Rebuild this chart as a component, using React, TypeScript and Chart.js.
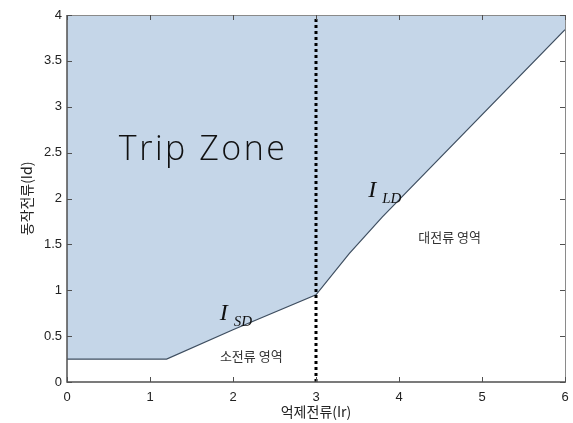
import React, { useEffect, useRef } from "react";
import { Chart, registerables } from "chart.js";

Chart.register(...registerables);

// Boundary (operating characteristic) curve
const boundaryX = [0, 1.2, 2.0, 3.0, 3.4, 3.8, 6];
const boundaryY = [0.25, 0.25, 0.57, 0.95, 1.4, 1.8, 3.84];
// Vertical dotted separator
const dividerX = [3, 3];
const dividerY = [0, 4];
// Axis ranges / ticks
const xTicks = [0, 1, 2, 3, 4, 5, 6];
const yTicks = [0, 0.5, 1, 1.5, 2, 2.5, 3, 3.5, 4];
const xTitle = "억제전류(Ir)";
const yTitle = "동작전류(Id)";

const KR = '"Noto Sans CJK KR", "Liberation Sans", sans-serif';

const annotationPlugin = {
  id: "annots",
  afterDatasetsDraw(chart: any) {
    const { ctx, chartArea, scales } = chart;
    const xs = scales.x;
    const ys = scales.y;
    const { left, right, top, bottom } = chartArea;
    ctx.save();
    // frame
    ctx.lineWidth = 1;
    ctx.strokeStyle = "#8a8a8a";
    ctx.beginPath();
    ctx.moveTo(left, top + 0.5);
    ctx.lineTo(right + 0.5, top + 0.5);
    ctx.lineTo(right + 0.5, bottom);
    ctx.stroke();
    ctx.strokeStyle = "#505050";
    ctx.lineWidth = 1.5;
    ctx.beginPath();
    ctx.moveTo(left, top);
    ctx.lineTo(left, bottom);
    ctx.lineTo(right + 1, bottom);
    ctx.stroke();
    // inner ticks
    const tl = 5;
    ctx.lineWidth = 1;
    ctx.strokeStyle = "#505050";
    xTicks.forEach((v) => {
      const px = Math.round(xs.getPixelForValue(v)) + 0.5;
      ctx.beginPath();
      ctx.moveTo(px, bottom);
      ctx.lineTo(px, bottom - tl);
      ctx.moveTo(px, top);
      ctx.lineTo(px, top + tl);
      ctx.stroke();
    });
    yTicks.forEach((v) => {
      const py = Math.round(ys.getPixelForValue(v)) + 0.5;
      ctx.beginPath();
      ctx.moveTo(left, py);
      ctx.lineTo(left + tl, py);
      ctx.moveTo(right, py);
      ctx.lineTo(right - tl, py);
      ctx.stroke();
    });

    // Trip Zone
    ctx.fillStyle = "#111";
    ctx.font = '300 34px "Open Sans", "Lato", sans-serif';
    (ctx as any).letterSpacing = "2.5px";
    ctx.textAlign = "center";
    ctx.textBaseline = "middle";
    ctx.fillText("Trip Zone", xs.getPixelForValue(1.64), ys.getPixelForValue(2.53));
    (ctx as any).letterSpacing = "0px";

    // I_SD, I_LD
    const drawSub = (main: string, sub: string, x: number, y: number) => {
      const px = xs.getPixelForValue(x);
      const py = ys.getPixelForValue(y);
      ctx.textAlign = "left";
      ctx.textBaseline = "alphabetic";
      ctx.fillStyle = "#111";
      ctx.font = 'italic 24px "Liberation Serif", "DejaVu Serif", serif';
      ctx.fillText(main, px, py);
      const w = ctx.measureText(main).width;
      ctx.font = 'italic 15px "Liberation Serif", "DejaVu Serif", serif';
      ctx.fillText(sub, px + w + 6, py + 6);
    };
    drawSub("I", "SD", 1.84, 0.676);
    drawSub("I", "LD", 3.63, 2.02);

    // region labels
    ctx.font = "13px " + KR;
    ctx.fillStyle = "#333";
    ctx.textAlign = "center";
    ctx.textBaseline = "middle";
    ctx.fillText("소전류 영역", xs.getPixelForValue(2.22), ys.getPixelForValue(0.283));
    ctx.fillText("대전류 영역", xs.getPixelForValue(4.61), ys.getPixelForValue(1.58));
    ctx.restore();
  },
};

export default function App() {
  const ref = useRef<HTMLCanvasElement>(null);
  useEffect(() => {
    document.body.style.margin = "0";
    const boundary = boundaryX.map((x, i) => ({ x, y: boundaryY[i] }));
    const divider = dividerX.map((x, i) => ({ x, y: dividerY[i] }));
    const chart = new Chart(ref.current!, {
      type: "scatter",
      data: {
        datasets: [
          {
            data: divider,
            showLine: true,
            borderColor: "#000",
            borderWidth: 3,
            borderDash: [3, 3],
            pointRadius: 0,
            fill: false,
          } as any,
          {
            data: boundary,
            showLine: true,
            borderColor: "#3e4e60",
            borderWidth: 1.2,
            backgroundColor: "rgb(197,214,232)",
            pointRadius: 0,
            fill: "end",
            tension: 0,
          } as any,
        ],
      },
      plugins: [annotationPlugin],
      options: {
        responsive: false,
        animation: false,
        layout: { padding: { top: 15, right: 8, left: 0, bottom: 0 } },
        plugins: { legend: { display: false }, tooltip: { enabled: false } },
        scales: {
          x: {
            type: "linear",
            min: 0,
            max: 6,
            afterFit: (s: any) => {
              s.height = 41;
              s.paddingLeft = 0;
              s.paddingRight = 0;
            },
            grid: { display: false, drawTicks: false },
            border: { display: false },
            ticks: {
              stepSize: 1,
              padding: 8,
              color: "#222",
              font: { family: '"Liberation Sans", Arial, sans-serif', size: 13 },
              callback: (v: any) => String(Number(v)),
            },
            title: {
              display: true,
              text: xTitle,
              color: "#222",
              font: { family: KR, size: 14 },
              padding: { top: 0, bottom: 3 },
            },
          },
          y: {
            type: "linear",
            min: 0,
            max: 4,
            afterFit: (s: any) => {
              s.width = 67;
              s.paddingTop = 0;
              s.paddingBottom = 0;
            },
            grid: { display: false, drawTicks: false },
            border: { display: false },
            ticks: {
              stepSize: 0.5,
              padding: 5,
              color: "#222",
              font: { family: '"Liberation Sans", Arial, sans-serif', size: 13 },
              callback: (v: any) => String(Number(v)),
            },
            title: {
              display: true,
              text: yTitle,
              color: "#222",
              font: { family: KR, size: 14 },
              padding: { top: 18, bottom: 0 },
            },
          },
        },
      },
    });
    return () => chart.destroy();
  }, []);
  return <canvas ref={ref} width={573} height={423} style={{ display: "block" }} />;
}
